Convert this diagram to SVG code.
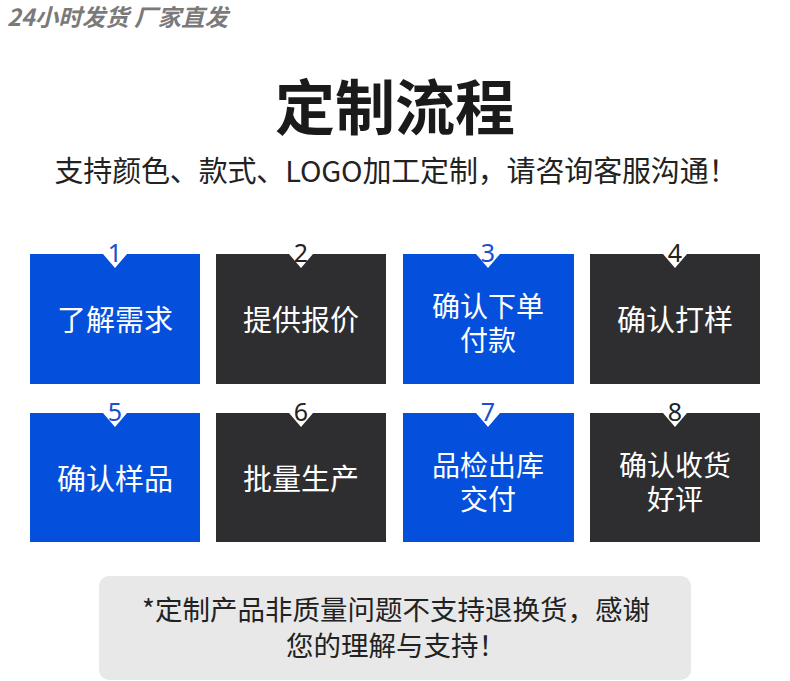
<svg xmlns="http://www.w3.org/2000/svg" width="790" height="681" viewBox="0 0 790 681">
<style>
.cjk{font-family:"Noto Sans CJK SC","Noto Sans",sans-serif}
.blue{fill:#0450dc}
.dark{fill:#2e2e31}
.lbl{fill:#ffffff;font-size:29px;text-anchor:middle}
.lbl2{fill:#ffffff;font-size:28px;text-anchor:middle}
.num{font-family:"Noto Sans","DejaVu Sans",sans-serif;font-size:25px;text-anchor:middle}
.nb{fill:#1a4fd0}
.nd{fill:#222222}
.notch{fill:#ffffff}
</style>
<rect width="790" height="681" fill="#ffffff"/>
<text x="7" y="26" class="cjk" font-size="23.5" font-weight="bold" font-style="italic" fill="#7a7a7a">24小时发货 厂家直发</text>
<text x="395" y="130" class="cjk" font-size="60" font-weight="bold" fill="#1a1a1a" text-anchor="middle">定制流程</text>
<text x="396" y="182" class="cjk" font-size="29" fill="#222222" text-anchor="middle" textLength="683" lengthAdjust="spacing">支持颜色、款式、LOGO加工定制，请咨询客服沟通！</text>
<g id="step1">
<rect x="30" y="254" width="170" height="130" class="blue"/>
<polygon points="103,254 127,254 115,268" class="notch"/>
<text x="115" y="262" class="num nb">1</text>
<text x="115" y="331" class="cjk lbl">了解需求</text>
</g>
<g id="step2">
<rect x="216" y="254" width="170" height="130" class="dark"/>
<polygon points="289,254 313,254 301,268" class="notch"/>
<text x="301" y="262" class="num nd">2</text>
<text x="301" y="331" class="cjk lbl">提供报价</text>
</g>
<g id="step3">
<rect x="403" y="254" width="171" height="130" class="blue"/>
<polygon points="476,254 500,254 488,268" class="notch"/>
<text x="488" y="262" class="num nb">3</text>
<text x="488" y="317" class="cjk lbl2">确认下单</text>
<text x="488" y="351" class="cjk lbl2">付款</text>
</g>
<g id="step4">
<rect x="590" y="254" width="170" height="130" class="dark"/>
<polygon points="663,254 687,254 675,268" class="notch"/>
<text x="675" y="262" class="num nd">4</text>
<text x="675" y="331" class="cjk lbl">确认打样</text>
</g>
<g id="step5">
<rect x="30" y="413" width="170" height="129" class="blue"/>
<polygon points="103,413 127,413 115,427" class="notch"/>
<text x="115" y="421" class="num nb">5</text>
<text x="115" y="490" class="cjk lbl">确认样品</text>
</g>
<g id="step6">
<rect x="216" y="413" width="170" height="129" class="dark"/>
<polygon points="289,413 313,413 301,427" class="notch"/>
<text x="301" y="421" class="num nd">6</text>
<text x="301" y="490" class="cjk lbl">批量生产</text>
</g>
<g id="step7">
<rect x="403" y="413" width="171" height="129" class="blue"/>
<polygon points="476,413 500,413 488,427" class="notch"/>
<text x="488" y="421" class="num nb">7</text>
<text x="488" y="476" class="cjk lbl2">品检出库</text>
<text x="488" y="510" class="cjk lbl2">交付</text>
</g>
<g id="step8">
<rect x="590" y="413" width="170" height="129" class="dark"/>
<polygon points="663,413 687,413 675,427" class="notch"/>
<text x="675" y="421" class="num nd">8</text>
<text x="675" y="476" class="cjk lbl2">确认收货</text>
<text x="675" y="510" class="cjk lbl2">好评</text>
</g>
<g id="connectors"></g>
<g id="note">
<rect x="99" y="576" width="592" height="104" rx="10" fill="#e8e8e8"/>
<text x="396" y="620" class="cjk" font-size="27.5" fill="#222222" text-anchor="middle">*定制产品非质量问题不支持退换货，感谢</text>
<text x="396" y="656" class="cjk" font-size="27.5" fill="#222222" text-anchor="middle">您的理解与支持！</text>
</g>
</svg>
